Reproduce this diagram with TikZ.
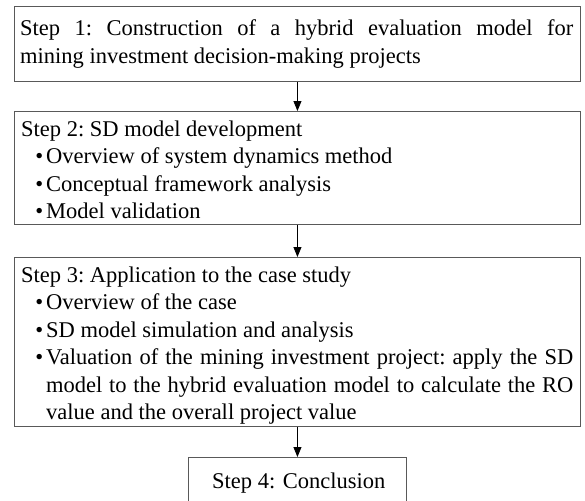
\documentclass[tikz,border=0pt]{standalone}
\usepackage{fontspec}
\setmainfont{Liberation Serif}
\usetikzlibrary{arrows.meta}
\newcommand{\stepitem}{\par\leftskip=25pt\noindent\llap{\textbullet\hskip3pt}}
\begin{document}
\begin{tikzpicture}[x=1pt,y=-1pt,
  stepbox/.style={draw=black!65,line width=0.9pt,anchor=north west,inner sep=0pt},
  steptext/.style={anchor=north west,inner sep=0pt,align=justify,text width=552pt,
    font=\fontsize{22.5}{27.4}\selectfont\frenchspacing},
  arr/.style={-{Triangle[length=10pt,width=8pt]},line width=0.8pt}]
\useasboundingbox (0,0) rectangle (585,500);
% boxes
\node[stepbox,minimum width=566pt,minimum height=75pt] (box1) at (14,6) {};
\node[stepbox,minimum width=566pt,minimum height=113pt] (box2) at (14,111) {};
\node[stepbox,minimum width=566pt,minimum height=169pt] (box3) at (14,257) {};
\node[stepbox,minimum width=218pt,minimum height=46pt] (box4) at (188,457) {};
% texts
\node[steptext,text width=553pt] (txt1) at (20,19.7)
  {Step 1: Construction of a hybrid evaluation model for\linebreak
   mining investment decision-making projects\par};
\node[steptext] (txt2) at (21,120.7)
  {Step 2: SD model development
   \stepitem Overview of system dynamics method
   \stepitem Conceptual framework analysis
   \stepitem Model validation\par};
\node[steptext] (txt3) at (21,266.7)
  {Step 3: Application to the case study
   \stepitem Overview of the case
   \stepitem SD model simulation and analysis
   \stepitem Valuation of the mining investment project: apply the SD\linebreak
   model to the hybrid evaluation model to calculate the RO\linebreak
   value and the overall project value\par};
\node[anchor=base west,inner sep=0pt,font=\fontsize{22.5}{27.4}\selectfont] (txt4) at (212,488)
  {Step 4: Conclusion};
% arrows
\foreach \a/\b in {box1/box2,box2/box3,box3/box4}
  \draw[arr] (\a) -- (\b);
\end{tikzpicture}
\end{document}
